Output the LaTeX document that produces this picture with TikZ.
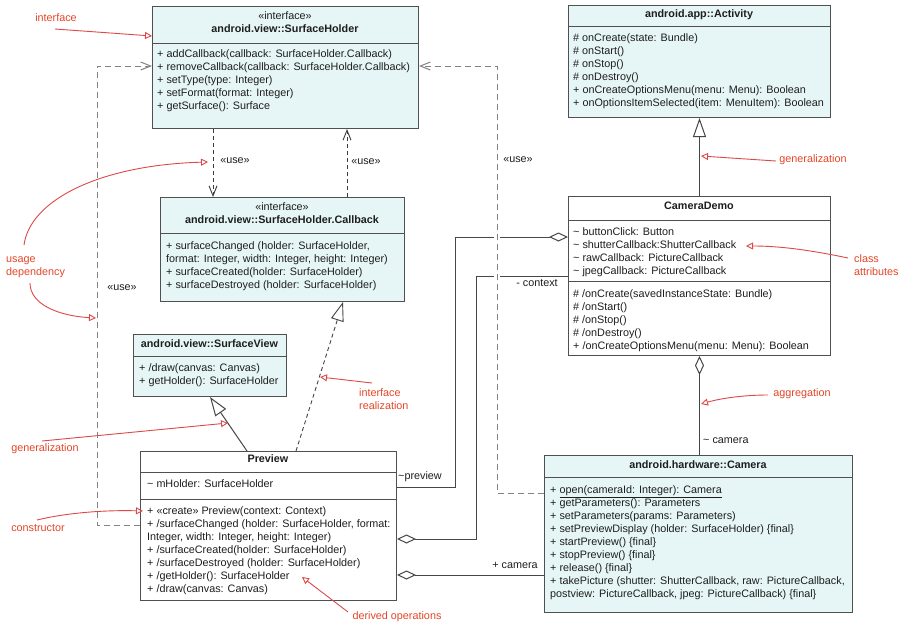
\documentclass[tikz,border=0pt]{standalone}
\usepackage{fontspec}
\setmainfont{Liberation Sans}
\usetikzlibrary{arrows.meta}
\definecolor{boxfill}{RGB}{230,246,246}
\definecolor{boxline}{RGB}{80,80,80}
\definecolor{txt}{RGB}{30,30,30}
\definecolor{lnk}{RGB}{70,70,70}
\definecolor{depdark}{RGB}{60,60,60}
\definecolor{depgray}{RGB}{130,130,130}
\definecolor{redtxt}{RGB}{228,70,40}
\definecolor{redln}{RGB}{222,72,72}
\newcommand{\clsfont}{\fontsize{10.8}{13}\selectfont}
\tikzset{
 cls/.style={draw=boxline, line width=1pt, fill=boxfill, inner sep=0pt, anchor=north west},
 clsw/.style={cls, fill=white},
 sepline/.style={draw=boxline, line width=1pt},
 body/.style={anchor=north west, inner sep=0pt, align=left, font=\clsfont, text=txt},
 head/.style={anchor=north, inner sep=0pt, align=center, font=\clsfont, text=txt},
 lbl/.style={anchor=mid, inner sep=0pt, font=\clsfont, text=txt},
 lblw/.style={anchor=mid west, inner sep=0pt, font=\clsfont, text=txt},
 note/.style={anchor=mid, inner sep=0pt, font=\clsfont, text=redtxt},
 notel/.style={anchor=north west, inner sep=0pt, align=left, font=\clsfont, text=redtxt},
 dep/.style={draw=depdark, line width=0.9pt, dash pattern=on 4pt off 3pt, -{Straight Barb[length=10pt,width=8pt]}},
 depg/.style={draw=depgray, line width=1pt, dash pattern=on 6pt off 4pt, -{Straight Barb[length=10pt,width=8pt]}},
 gen/.style={draw=lnk, line width=1pt, -{Triangle[open,length=19pt,width=13pt,fill=white]}},
 real/.style={draw=lnk, line width=0.9pt, dash pattern=on 4pt off 3pt, -{Triangle[open,length=19pt,width=13pt,fill=white]}},
 agg/.style={draw=lnk, line width=1pt, {Diamond[open,length=19pt,width=9pt,fill=white]}-},
 ann/.style={draw=redln, line width=0.9pt, -{Triangle[open,length=7pt,width=7pt]}},
}
\begin{document}
\begin{tikzpicture}[x=1pt,y=-1pt]
\useasboundingbox[fill=white] (0,0) rectangle (900,624);

% ---------- class boxes ----------
\node[cls, minimum width=266pt, minimum height=122pt] (sh) at (152,6) {};
\draw[sepline] (sh.west |- 0,43) -- (sh.east |- 0,43);
\node[head] (shh) at (285,11.8) {«interface»\\\textbf{android.view::SurfaceHolder}};
\node[body] (shb) at (157,47.8) {\strut+ addCallback(callback: SurfaceHolder.Callback)\\
+ removeCallback(callback: SurfaceHolder.Callback)\\
+ setType(type: Integer)\\
+ setFormat(format: Integer)\\
+ getSurface(): Surface};

\node[cls, minimum width=262pt, minimum height=112pt] (act) at (568,5) {};
\draw[sepline] (act.west |- 0,26) -- (act.east |- 0,26);
\node[head] (acth) at (699,9.8) {\textbf{android.app::Activity}};
\node[body] (actb) at (573,31.8) {\strut\# onCreate(state: Bundle)\\
\# onStart()\\
\# onStop()\\
\# onDestroy()\\
+ onCreateOptionsMenu(menu: Menu): Boolean\\
+ onOptionsItemSelected(item: MenuItem): Boolean};

\node[clsw, minimum width=262pt, minimum height=159pt] (cd) at (568,196) {};
\draw[sepline] (cd.west |- 0,220) -- (cd.east |- 0,220);
\draw[sepline] (cd.west |- 0,281) -- (cd.east |- 0,281);
\node[head] (cdh) at (699,201.8) {\textbf{CameraDemo}};
\node[body] (cda) at (573,225.8) {\strut\textasciitilde{} buttonClick: Button\\
\textasciitilde{} shutterCallback:ShutterCallback\\
\textasciitilde{} rawCallback: PictureCallback\\
\textasciitilde{} jpegCallback: PictureCallback};
\node[body] (cdo) at (573,287.8) {\strut\# /onCreate(savedInstanceState: Bundle)\\
\# /onStart()\\
\# /onStop()\\
\# /onDestroy()\\
+ /onCreateOptionsMenu(menu: Menu): Boolean};

\node[cls, minimum width=308pt, minimum height=157pt] (cam) at (544,455) {};
\draw[sepline] (cam.west |- 0,477) -- (cam.east |- 0,477);
\node[head] (camh) at (698,460.8) {\textbf{android.hardware::Camera}};
\node[body] (camb) at (550,483.8) {\strut+ \underline{open(cameraId: Integer): Camera}\\
+ getParameters(): Parameters\\
+ setParameters(params: Parameters)\\
+ setPreviewDisplay (holder: SurfaceHolder) \{final\}\\
+ startPreview() \{final\}\\
+ stopPreview() \{final\}\\
+ release() \{final\}\\
+ takePicture (shutter: ShutterCallback, raw: PictureCallback,\\
postview: PictureCallback, jpeg: PictureCallback) \{final\}};

\node[cls, minimum width=244pt, minimum height=104pt] (cb) at (160,197) {};
\draw[sepline] (cb.west |- 0,233) -- (cb.east |- 0,233);
\node[head] (cbh) at (282,202.8) {«interface»\\\textbf{android.view::SurfaceHolder.Callback}};
\node[body] (cbb) at (166,239.8) {\strut+ surfaceChanged (holder: SurfaceHolder,\\
format: Integer, width: Integer, height: Integer)\\
+ surfaceCreated(holder: SurfaceHolder)\\
+ surfaceDestroyed (holder: SurfaceHolder)};

\node[cls, minimum width=153pt, minimum height=62pt] (sv) at (133,334) {};
\draw[sepline] (sv.west |- 0,356) -- (sv.east |- 0,356);
\node[head] (svh) at (209.5,339.8) {\textbf{android.view::SurfaceView}};
\node[body] (svb) at (139,361.8) {\strut+ /draw(canvas: Canvas)\\
+ getHolder(): SurfaceHolder};

\node[clsw, minimum width=256pt, minimum height=149pt] (pv) at (140,451) {};
\draw[sepline] (pv.west |- 0,472) -- (pv.east |- 0,472);
\draw[sepline] (pv.west |- 0,499) -- (pv.east |- 0,499);
\node[head] (pvh) at (268,454.8) {\textbf{Preview}};
\node[body] (pva) at (147,477.8) {\strut\textasciitilde{} mHolder: SurfaceHolder};
\node[body] (pvo) at (147,504.8) {\strut+ «create» Preview(context: Context)\\
+ /surfaceChanged (holder: SurfaceHolder, format:\\
Integer, width: Integer, height: Integer)\\
+ /surfaceCreated(holder: SurfaceHolder)\\
+ /surfaceDestroyed (holder: SurfaceHolder)\\
+ /getHolder(): SurfaceHolder\\
+ /draw(canvas: Canvas)};

% ---------- connectors ----------
\draw[dep] (sh.south -| 213,0) -- (cb.north -| 213,0);
\draw[dep] (cb.north -| 347,0) -- (sh.south -| 347,0);
\draw[depg] (pv.west |- 0,525) -- (97,525) -- (97,66) -- (sh.west |- 0,66);

\draw[gen] (cd.north) -- (act.south);
\draw[gen] (pv.north -| 247,0) -- (sv.south -| 210,0);
\draw[real] (pv.north -| 296,0) -- (cb.south -| 343,0);

\draw[agg] (cd.south) -- (cam.north -| cd.south);
\draw[agg] (cd.west |- 0,237) -- (455,237) -- (455,487) -- (pv.east |- 0,487);
\draw[agg] (pv.east |- 0,539) -- (476,539) -- (476,276) -- (cd.west |- 0,276);
\draw[agg] (pv.east |- 0,575) -- (cam.west |- 0,575);

\draw[white, line width=6pt] (497,230) -- (497,283);
\draw[depg] (cam.west |- 0,493) -- (497,493) -- (497,66) -- (sh.east |- 0,66);

% ---------- connector labels ----------
\node[lbl] (u1) at (235,161) {«use»};
\node[lbl] (u2) at (366,162) {«use»};
\node[lbl] (u3) at (518,160) {«use»};
\node[lbl] (u4) at (122,288) {«use»};
\node[lbl] (lp) at (420,477) {\textasciitilde preview};
\node[lbl] (lc) at (537,284) {- context};
\node[lbl] (lcam) at (515,566) {+ camera};
\node[lblw] (lcam2) at (703,441) {\textasciitilde{} camera};

% ---------- annotations ----------
\node[note] (n1) at (56,19) {interface};
\coordinate (n1s) at (55,29);
\draw[ann] (n1s) -- (sh.west |- 0,36);

\node[notel] (n2) at (6,252.8) {\strut usage\\dependency};
\coordinate (n2a) at (24,245);
\coordinate (n2ae) at (208,162);
\coordinate (n2b) at (30,283);
\coordinate (n2be) at (96,318);
\draw[ann] (n2a) .. controls (30,200) and (100,165) .. (n2ae);
\draw[ann] (n2b) .. controls (30,305) and (60,316) .. (n2be);

\node[note] (n3) at (45,449) {generalization};
\coordinate (n3s) at (42,441);
\coordinate (n3e) at (228,423);
\draw[ann] (n3s) -- (n3e);

\node[note] (n4) at (38,529) {constructor};
\coordinate (n4s) at (37,520);
\coordinate (n4e) at (143,511);
\draw[ann] (n4s) .. controls (70,512) and (110,510) .. (n4e);

\node[note] (n5) at (397,617) {derived operations};
\coordinate (n5s) at (348,612);
\coordinate (n5e) at (302,577);
\draw[ann] (n5s) -- (n5e);

\node[notel] (n6) at (359,386.8) {\strut interface\\realization};
\coordinate (n6s) at (372,383);
\coordinate (n6e) at (320,377);
\draw[ann] (n6s) -- (n6e);

\node[notel] (n7) at (854,252.8) {\strut class\\attributes};
\coordinate (n7s) at (848,258);
\coordinate (n7e) at (746,246);
\draw[ann] (n7s) .. controls (810,250) and (780,246) .. (n7e);

\node[note] (n8) at (813,160) {generalization};
\coordinate (n8s) at (776,161);
\coordinate (n8e) at (701,156);
\draw[ann] (n8s) -- (n8e);

\node[note] (n9) at (802,394) {aggregation};
\coordinate (n9s) at (768,395);
\coordinate (n9e) at (701,404);
\draw[ann] (n9s) .. controls (745,395) and (722,398) .. (n9e);
\end{tikzpicture}
\end{document}
